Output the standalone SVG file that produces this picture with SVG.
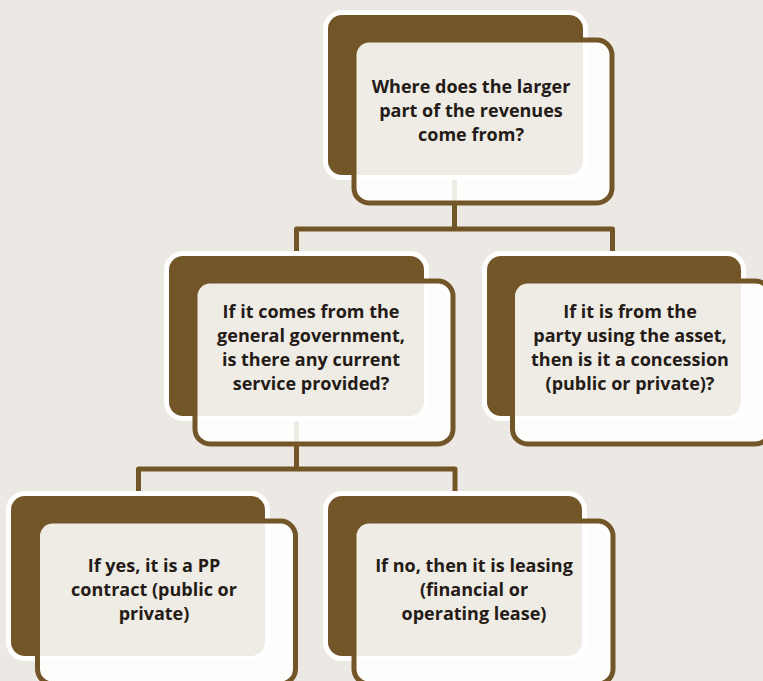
<svg xmlns="http://www.w3.org/2000/svg" width="763" height="681" viewBox="0 0 763 681">
  <style>
    .back { fill: #735628; stroke: #ffffff; stroke-width: 10; paint-order: stroke; }
    .front { fill: #ffffff; fill-opacity: 0.885; stroke: #735628; stroke-width: 5; }
    .conn { fill: none; stroke: #735628; stroke-width: 5; stroke-linejoin: round; }
    .lbl { font-family: "Open Sans", "Noto Sans", "Liberation Sans", sans-serif; font-weight: bold; font-size: 18px; fill: #241b16; text-anchor: middle; }
  </style>
  <rect x="0" y="0" width="763" height="681" fill="#ece8e3"/>
  <g id="connectors">
    <path class="conn" d="M454.5,170 V229 M296.5,256 V229 H612.5 V256"/>
    <path class="conn" d="M296.5,410 V469 M138.5,496 V469 H455 V496"/>
  </g>
  <g id="node-revenues">
    <rect class="back" x="328" y="15" width="255" height="160" rx="14"/>
    <rect class="front" x="354" y="40" width="258" height="163" rx="15"/>
    <text class="lbl" x="471" y="93">Where does the larger</text>
    <text class="lbl" x="471" y="117">part of the revenues</text>
    <text class="lbl" x="471" y="141">come from?</text>
  </g>
  <g id="node-government">
    <rect class="back" x="169" y="256" width="255" height="160" rx="14"/>
    <rect class="front" x="195" y="281" width="258" height="163" rx="15"/>
    <text class="lbl" x="311" y="318">If it comes from the</text>
    <text class="lbl" x="311" y="342">general government,</text>
    <text class="lbl" x="311" y="366">is there any current</text>
    <text class="lbl" x="311" y="390">service provided?</text>
  </g>
  <g id="node-concession">
    <rect class="back" x="487" y="256" width="254" height="160" rx="14"/>
    <rect class="front" x="512.5" y="281" width="258" height="163" rx="15"/>
    <text class="lbl" x="630" y="318">If it is from the</text>
    <text class="lbl" x="630" y="342">party using the asset,</text>
    <text class="lbl" x="630" y="366">then is it a concession</text>
    <text class="lbl" x="630" y="390">(public or private)?</text>
  </g>
  <g id="node-pp">
    <rect class="back" x="11" y="496" width="254" height="160" rx="14"/>
    <rect class="front" x="37.5" y="521" width="258" height="163" rx="15"/>
    <text class="lbl" x="154" y="572">If yes, it is a PP</text>
    <text class="lbl" x="154" y="596">contract (public or</text>
    <text class="lbl" x="154" y="620">private)</text>
  </g>
  <g id="node-leasing">
    <rect class="back" x="328" y="496" width="254" height="160" rx="14"/>
    <rect class="front" x="354" y="521" width="259" height="163" rx="15"/>
    <text class="lbl" x="474" y="572">If no, then it is leasing</text>
    <text class="lbl" x="474" y="596">(financial or</text>
    <text class="lbl" x="474" y="620">operating lease)</text>
  </g>
</svg>
